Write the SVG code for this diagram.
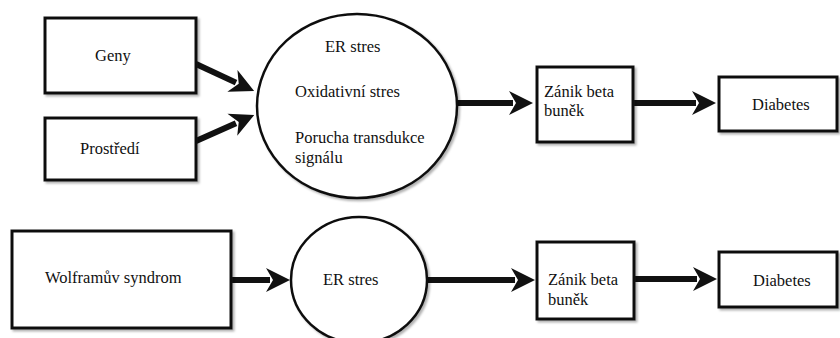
<svg xmlns="http://www.w3.org/2000/svg" width="840" height="338" viewBox="0 0 840 338">
<defs>
<style>
.box{fill:#fff;stroke:#111;stroke-width:3;filter:url(#sh)}
.ell{fill:#fff;stroke:#111;stroke-width:2.5;filter:url(#sh)}
text{font-family:'Liberation Serif','Times New Roman','DejaVu Serif',serif;font-size:16.5px;fill:#111}
.c{fill:none;stroke:#111;stroke-width:6}
</style>
<filter id="sh" x="-10%" y="-10%" width="125%" height="125%">
<feDropShadow dx="2" dy="2" stdDeviation="1.2" flood-color="#000" flood-opacity="0.3"/>
</filter>
<marker id="ah" markerUnits="userSpaceOnUse" markerWidth="24" markerHeight="26" viewBox="0 0 24 26" refX="4" refY="13" orient="auto">
<path d="M0,1 L24,13 L0,25 L7,13 z" fill="#111"/>
</marker>
</defs>
<g id="connectors">
<line class="c" x1="196" y1="64" x2="236" y2="82.6" marker-end="url(#ah)"/>
<line class="c" x1="196" y1="141" x2="236" y2="123.2" marker-end="url(#ah)"/>
<line class="c" x1="457" y1="103" x2="513" y2="103" marker-end="url(#ah)"/>
<line class="c" x1="633" y1="103" x2="696" y2="103" marker-end="url(#ah)"/>
<line class="c" x1="231" y1="280" x2="270" y2="280" marker-end="url(#ah)"/>
<line class="c" x1="427" y1="280" x2="515" y2="280" marker-end="url(#ah)"/>
<line class="c" x1="634" y1="279" x2="697" y2="279" marker-end="url(#ah)"/>
</g>
<g id="geny">
<rect class="box" x="45" y="18" width="151" height="75"/>
<text x="95" y="61" font-family="Liberation Serif, serif">Geny</text>
</g>
<g id="prostredi">
<rect class="box" x="45" y="118" width="151" height="62"/>
<text x="80" y="154" font-family="Liberation Serif, serif">Prostředí</text>
</g>
<g id="stres1">
<ellipse class="ell" cx="357" cy="106" rx="100" ry="92"/>
<text x="325" y="52">ER stres</text>
<text x="295" y="97">Oxidativní stres</text>
<text x="295" y="143">Porucha transdukce</text>
<text x="295" y="163">signálu</text>
</g>
<g id="zanik1">
<rect class="box" x="537" y="67" width="96" height="75"/>
<text x="544" y="97">Zánik beta</text>
<text x="544" y="116">buněk</text>
</g>
<g id="diabetes1">
<rect class="box" x="719" y="77" width="118" height="54"/>
<text x="752" y="110">Diabetes</text>
</g>
<g id="wolfram">
<rect class="box" x="12" y="231" width="219" height="97"/>
<text x="45" y="283">Wolframův syndrom</text>
</g>
<g id="stres2">
<ellipse class="ell" cx="359" cy="280" rx="68" ry="63"/>
<text x="323" y="285">ER stres</text>
</g>
<g id="zanik2">
<rect class="box" x="537" y="242" width="97" height="77"/>
<text x="548" y="285">Zánik beta</text>
<text x="548" y="305">buněk</text>
</g>
<g id="diabetes2">
<rect class="box" x="719" y="252" width="118" height="55"/>
<text x="753" y="286">Diabetes</text>
</g>
</svg>
